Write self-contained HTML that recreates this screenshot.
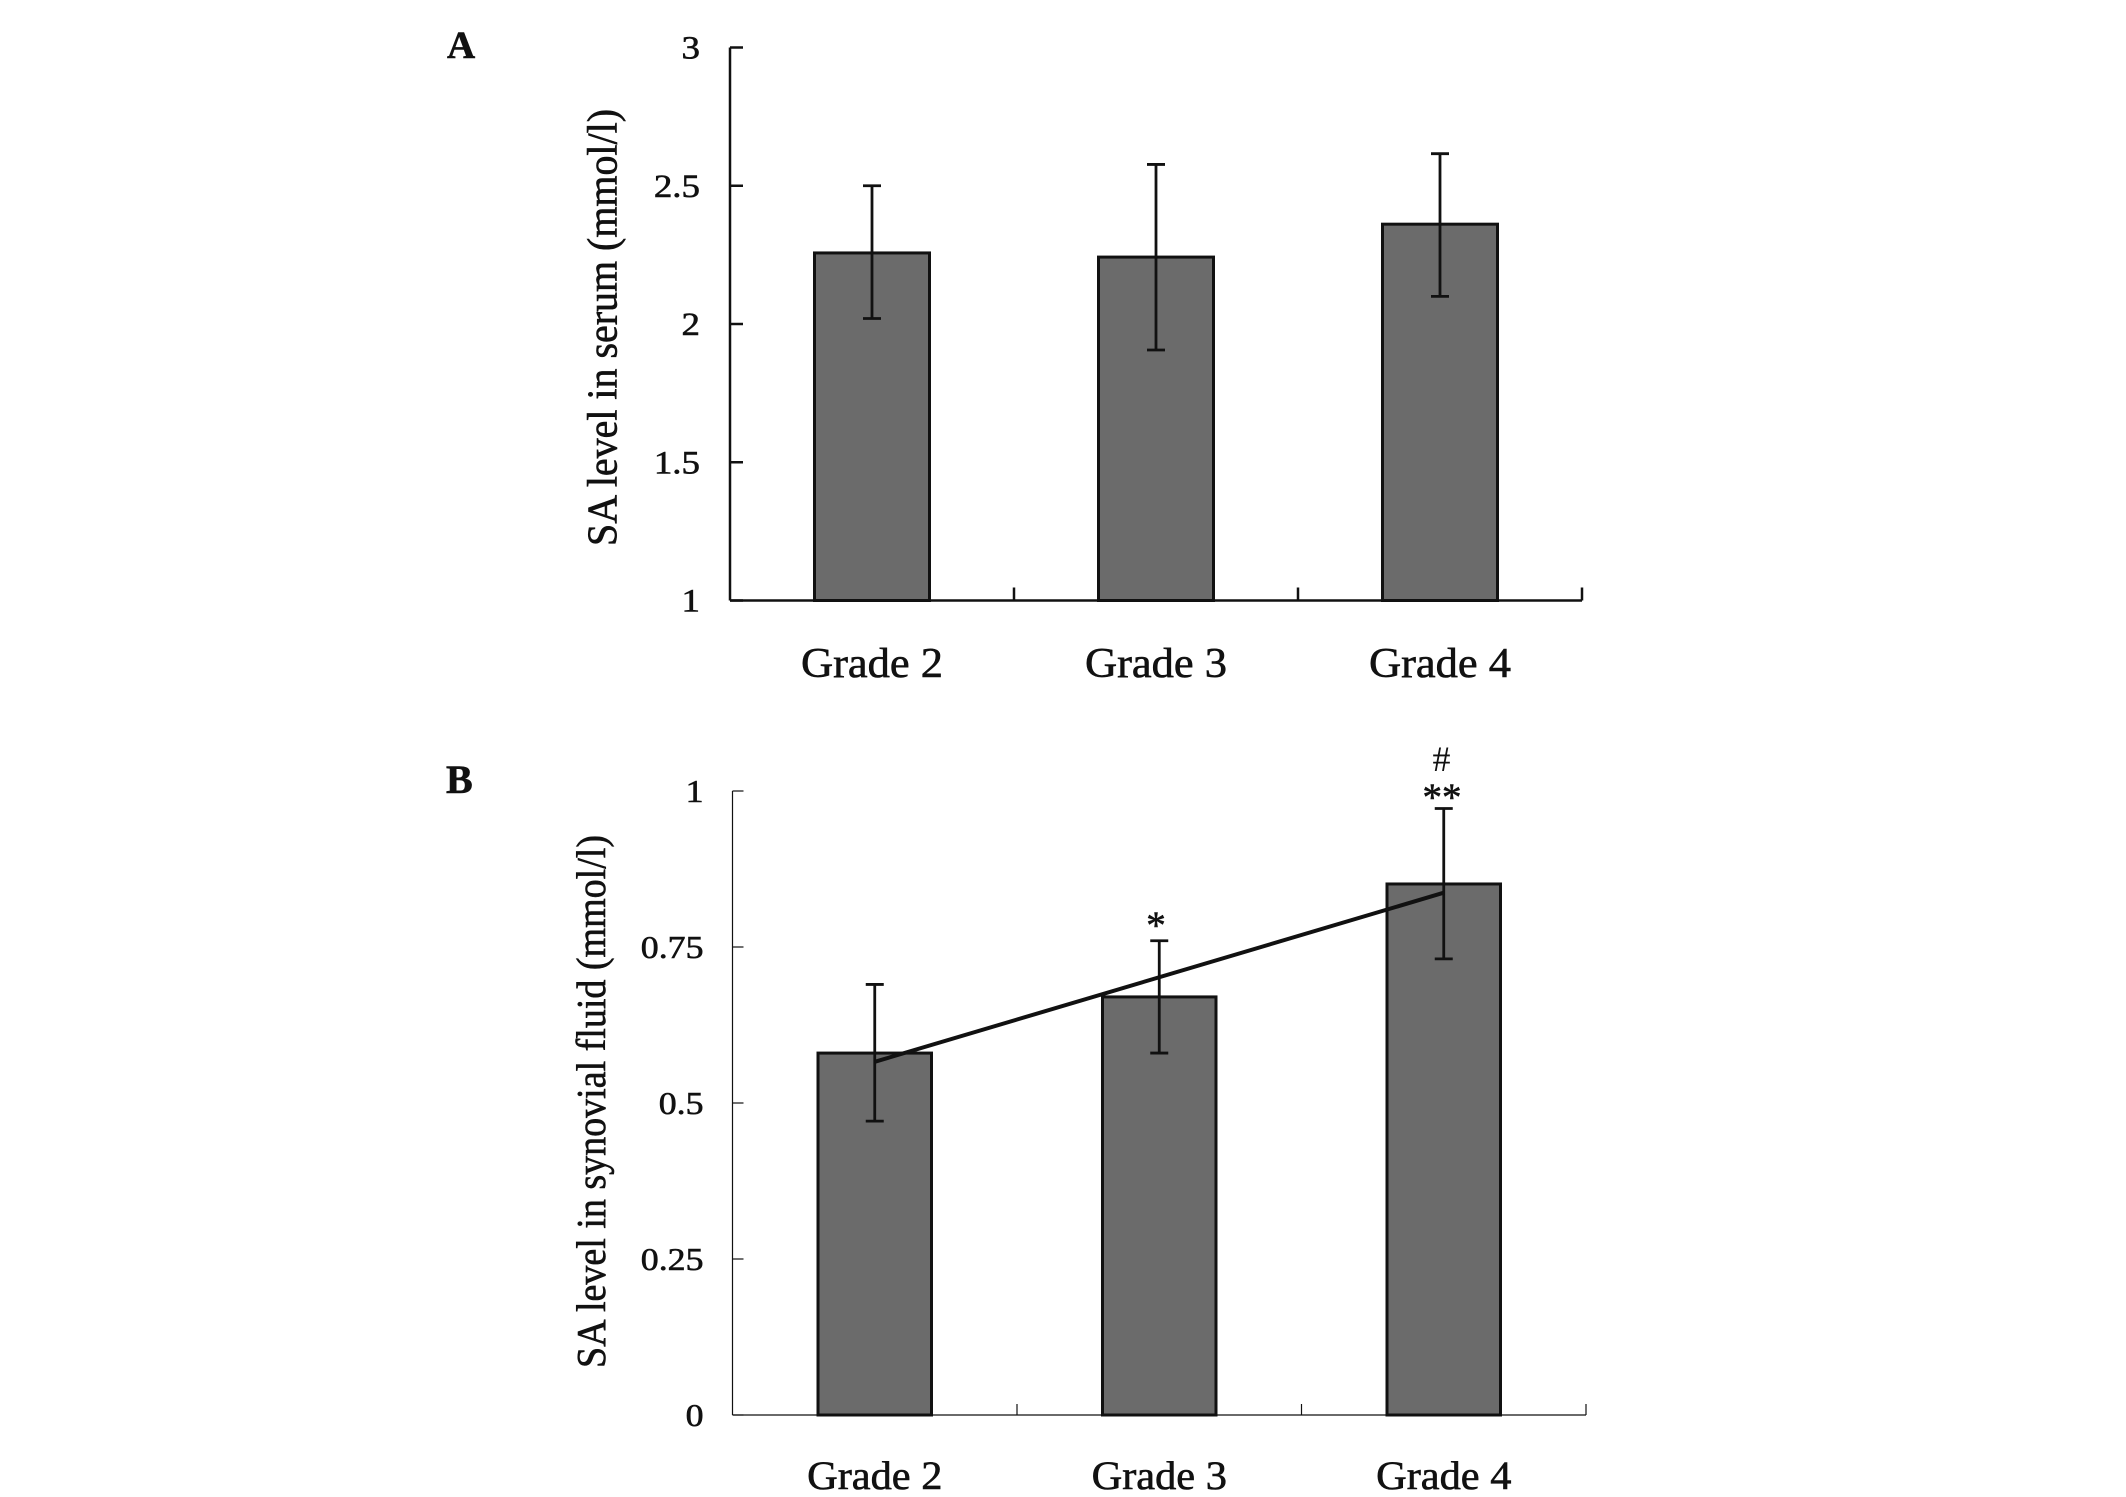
<!DOCTYPE html>
<html lang="en">
<head>
<meta charset="utf-8">
<title>SA level by grade</title>
<style>
html,body{margin:0;padding:0;background:#fff;width:2126px;height:1497px;overflow:hidden}
svg{display:block}
text{font-family:"Liberation Serif",serif;fill:#111;stroke:#111;stroke-width:.6px}
</style>
</head>
<body>
<svg id="chart" xmlns="http://www.w3.org/2000/svg" width="2126" height="1497" viewBox="0 0 2126 1497">
  <rect width="2126" height="1497" fill="#fff"/>
  <text x="447" y="58" font-size="39" font-weight="bold">A</text>
  <text x="446" y="793" font-size="40" font-weight="bold">B</text>
  <text transform="translate(616.5,546) rotate(-90)" font-size="42" textLength="437" lengthAdjust="spacingAndGlyphs">SA level in serum (mmol/l)</text>
  <text transform="translate(605,1368) rotate(-90)" font-size="41" textLength="533" lengthAdjust="spacingAndGlyphs">SA level in synovial fluid (mmol/l)</text>
  <g id="panel-a"></g>
  <g id="panel-b"></g>
  <text x="1156" y="938" font-size="39" text-anchor="middle">*</text>
  <text x="1442" y="810" font-size="39" text-anchor="middle">**</text>
  <text x="1441.5" y="771" font-size="36" text-anchor="middle" style="stroke-width:0">#</text>
</svg>
<script>
// Panel A data
const categoriesA = ['Grade 2', 'Grade 3', 'Grade 4'];
const meansA = [2.257, 2.242, 2.361];
const errorHighA = [2.5, 2.577, 2.616];
const errorLowA = [2.02, 1.906, 2.10];
const yTicksA = [1, 1.5, 2, 2.5, 3];

// Panel B data
const categoriesB = ['Grade 2', 'Grade 3', 'Grade 4'];
const meansB = [0.58, 0.67, 0.851];
const errorHighB = [0.69, 0.76, 0.972];
const errorLowB = [0.471, 0.58, 0.731];
const yTicksB = [0, 0.25, 0.5, 0.75, 1];
const trendStartB = 0.566;
const trendEndB = 0.837;

const SVG_NS = 'http://www.w3.org/2000/svg';

function make(parent, tag, attrs, text) {
  const node = document.createElementNS(SVG_NS, tag);
  for (const key in attrs) node.setAttribute(key, attrs[key]);
  if (text !== undefined) node.textContent = text;
  parent.appendChild(node);
  return node;
}

function drawPanel(group, opts, categories, means, high, low, ticks) {
  const yMin = ticks[0];
  const yMax = ticks[ticks.length - 1];
  const band = (opts.right - opts.left) / categories.length;
  const xCenter = function (i) { return opts.left + band * (i + 0.5); };
  const yScale = function (v) { return opts.bottom - (v - yMin) / (yMax - yMin) * (opts.bottom - opts.top); };

  means.forEach(function (value, i) {
    const cx = xCenter(i);
    const bar = make(group, 'rect', {
      x: cx - opts.barWidth / 2, y: yScale(value),
      width: opts.barWidth, height: opts.bottom - yScale(value),
      fill: '#6b6b6b', stroke: '#111', 'stroke-width': opts.barStroke
    });
    
    
  });

  const axisStyle = { stroke: '#111', 'stroke-width': opts.axisStroke, fill: 'none' };
  const yAxis = make(group, 'line', Object.assign({ x1: opts.left, x2: opts.left, y1: opts.top, y2: opts.bottom }, axisStyle));
  
  
  const xAxis = make(group, 'line', Object.assign({ x1: opts.left, x2: opts.right, y1: opts.bottom, y2: opts.bottom }, axisStyle));
  
  

  ticks.forEach(function (value) {
    const y = yScale(value);
    const tick = make(group, 'line', Object.assign({ x1: opts.left, x2: opts.left + opts.tickLength, y1: y, y2: y }, axisStyle));
    
    
    const label = make(group, 'text', {
      transform: 'translate(' + opts.tickLabelRight + ',' + (y + 11) + ') scale(1.12,1)',
      'font-size': opts.tickFont, 'text-anchor': 'end'
    }, String(value));
    
    
  });

  categories.forEach(function (name, i) {
    const edge = opts.left + band * (i + 1);
    const tick = make(group, 'line', Object.assign({ x1: edge, x2: edge, y1: opts.bottom, y2: opts.bottom - opts.tickLength }, axisStyle));
    
    
    const label = make(group, 'text', {
      transform: 'translate(' + xCenter(i) + ',' + opts.xLabelBaseline + ') scale(1.06,1)',
      'font-size': opts.xFont, 'text-anchor': 'middle'
    }, name);
    
    
  });

  means.forEach(function (value, i) {
    const cx = xCenter(i);
    const errStyle = { stroke: '#111', 'stroke-width': opts.errorStroke };
    const stem = make(group, 'line', Object.assign({ x1: cx, x2: cx, y1: yScale(high[i]), y2: yScale(low[i]) }, errStyle));
    
    
    const capTop = make(group, 'line', Object.assign({ x1: cx - 9, x2: cx + 9, y1: yScale(high[i]), y2: yScale(high[i]) }, errStyle));
    
    
    const capBottom = make(group, 'line', Object.assign({ x1: cx - 9, x2: cx + 9, y1: yScale(low[i]), y2: yScale(low[i]) }, errStyle));
    
    
  });

  return { xCenter: xCenter, yScale: yScale };
}

drawPanel(document.getElementById('panel-a'), {
  left: 730, right: 1582, top: 47.5, bottom: 600.5,
  barWidth: 115, barStroke: 3, axisStroke: 2.5, errorStroke: 2.8, tickLength: 13,
  tickLabelRight: 700, tickFont: 33, xFont: 42, xLabelBaseline: 677
}, categoriesA, meansA, errorHighA, errorLowA, yTicksA);

const scalesB = drawPanel(document.getElementById('panel-b'), {
  left: 732.5, right: 1586, top: 791, bottom: 1415,
  barWidth: 113.5, barStroke: 3, axisStroke: 1.2, errorStroke: 2.8, tickLength: 11,
  tickLabelRight: 703.5, tickFont: 32, xFont: 40, xLabelBaseline: 1489
}, categoriesB, meansB, errorHighB, errorLowB, yTicksB);

const trendLine = make(document.getElementById('panel-b'), 'line', {
  x1: scalesB.xCenter(0), y1: scalesB.yScale(trendStartB),
  x2: scalesB.xCenter(2), y2: scalesB.yScale(trendEndB),
  stroke: '#111', 'stroke-width': 4
});


</script>
</body>
</html>
